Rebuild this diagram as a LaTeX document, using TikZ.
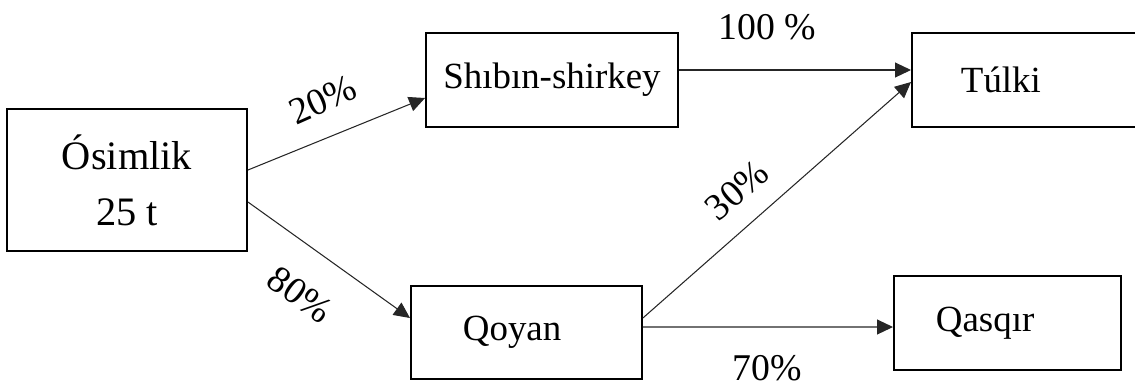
\documentclass[tikz,border=0pt]{standalone}
\usepackage{fontspec}
\setmainfont{Liberation Serif}
\usetikzlibrary{arrows.meta,positioning}

\begin{document}
\begin{tikzpicture}[
    x=0.02cm, y=-0.02cm,
    box/.style={draw, line width=1.1pt, minimum height=1.88cm, font=\fontsize{21}{25}\selectfont},
    arr/.style={-{Triangle[length=0.32cm, width=0.3cm]}, line width=0.6pt, draw=black!85},
    pct/.style={font=\fontsize{21.5}{25}\selectfont, inner sep=0pt},
]
\useasboundingbox (0,0) rectangle (1135,387);
% Boxes
\node[box, minimum width=4.8cm, minimum height=2.84cm, align=center,
      font=\fontsize{23}{32}\selectfont] (osim) at (127,180) {Ósimlik\\ 25 t};
\node[box, minimum width=5.04cm] (shib) at (552,80) {Shıbın-shirkey};
\node[box, anchor=west, text width=4cm, align=left, inner xsep=0.98cm] (tulki) at (911,80) {Túlki};
\node[box, anchor=west, minimum height=1.86cm, text width=2.54cm, align=left, inner xsep=1.04cm] (qoyan) at (410,332.5) {Qoyan};
\node[box, anchor=west, text width=2.86cm, align=left, inner xsep=0.84cm] (qasqir) at (893,323) {Qasqır};
% Arrows
\draw[arr] ([yshift=0.2cm]osim.east) -- ([yshift=-0.36cm]shib.west);
\draw[arr] ([yshift=-0.44cm]osim.east) -- ([yshift=0.29cm]qoyan.west);
\draw[arr] ([yshift=0.2cm]shib.east) -- ([yshift=0.2cm]tulki.west);
\draw[arr] ([yshift=0.29cm]qoyan.east) -- ([yshift=-0.04cm]tulki.west);
\draw[arr] ([yshift=0.11cm]qoyan.east) -- ([yshift=-0.08cm]qasqir.west);
% Percentages
\node[pct, rotate=24] (p20) at (323,100) {20\%};
\node[pct, rotate=-36] (p80) at (300,295) {80\%};
\node[pct] (p100) at (767,27) {100 \%};
\node[pct, rotate=41] (p30) at (737,190) {30\%};
\node[pct] (p70) at (767,368) {70\%};
\end{tikzpicture}
\end{document}
